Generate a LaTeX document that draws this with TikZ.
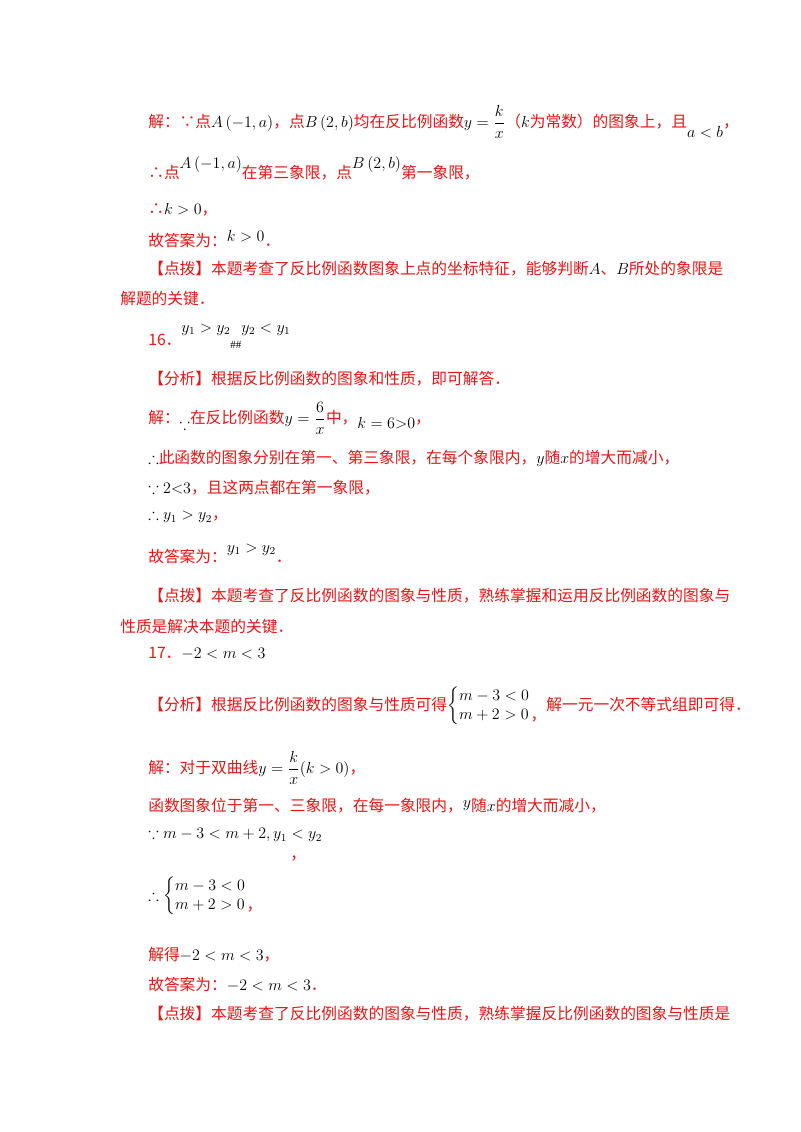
\documentclass[tikz,border=0pt]{standalone}
\usepackage{amsmath,amssymb}
\usepackage{fontspec}
\setmainfont{Liberation Serif}
\newfontfamily\cjk{Noto Sans CJK SC}
\definecolor{myred}{RGB}{235,20,20}
\newcommand{\M}[1]{\textcolor{black}{$#1$}}
\newcommand{\sys}{\left\{\begin{array}{@{}l@{}}m-3<0\\ m+2>0\end{array}\right.}
\begin{document}
\begin{tikzpicture}[x=0.75pt,y=-0.75pt,
  ln/.style={anchor=west,inner sep=0pt,text=myred,font=\cjk\fontsize{11.8}{14}\selectfont}]
\useasboundingbox (0,0) rectangle (800,1132);
\node[ln] (l1) at (148,122) {解：∵点\M{A\left(-1,a\right)}，点\M{B\left(2,b\right)}均在反比例函数\M{y=\dfrac{k}{x}}（\M{k}为常数）的图象上，且\raisebox{-1.2ex}{\M{a<b}}，};
\node[ln] (l2) at (148,168) {∴点\raisebox{1.2ex}{\M{A\left(-1,a\right)}}在第三象限，点\raisebox{1.2ex}{\M{B\left(2,b\right)}}第一象限，};
\node[ln] (l3) at (148,210) {∴\M{k>0}，};
\node[ln] (l4) at (148,239) {故答案为：\raisebox{0.5ex}{\M{k>0}}．};
\node[ln] (l5) at (148,269) {【点拨】本题考查了反比例函数图象上点的坐标特征，能够判断\M{A}、\M{B}所处的象限是};
\node[ln] (l6) at (120,299) {解题的关键．};
\node[ln] (l7) at (148,336) {16．\raisebox{1.6ex}{\M{y_1>y_2}}\raisebox{-0.3ex}{\M{\scriptstyle\#\#}}\raisebox{1.6ex}{\M{y_2<y_1}}};
\node[ln] (l8) at (148,379) {【分析】根据反比例函数的图象和性质，即可解答．};
\node[ln] (l9) at (148,418) {解：\raisebox{-0.8ex}{\M{\because}}在反比例函数\M{y=\dfrac{6}{x}}中，\raisebox{-0.6ex}{\M{k=6{>}0}}，};
\node[ln] (l10) at (148,458) {\M{\therefore}此函数的图象分别在第一、第三象限，在每个象限内，\M{y}随\M{x}的增大而减小，};
\node[ln] (l11) at (148,488) {\M{\because 2{<}3}，且这两点都在第一象限，};
\node[ln] (l12) at (148,516) {\M{\therefore y_1>y_2}，};
\node[ln] (l13) at (148,554) {故答案为：\raisebox{1.2ex}{\M{y_1>y_2}}．};
\node[ln] (l14) at (148,596) {【点拨】本题考查了反比例函数的图象与性质，熟练掌握和运用反比例函数的图象与};
\node[ln] (l15) at (120,627) {性质是解决本题的关键．};
\node[ln] (l16) at (148,654) {17．\M{-2<m<3}};
\node[ln] (l17) at (148,706) {【分析】根据反比例函数的图象与性质可得\M{\sys}\raisebox{-1.2ex}{，}解一元一次不等式组即可得．};
\node[ln] (l18) at (148,768) {解：对于双曲线\M{y=\dfrac{k}{x}(k>0)}，};
\node[ln] (l19) at (148,806) {函数图象位于第一、三象限，在每一象限内，\raisebox{0.5ex}{\M{y}}随\M{x}的增大而减小，};
\node[ln] (l20) at (148,835) {\M{\because m-3<m+2,y_1<y_2}};
\node[ln] (l20b) at (290,858) {，};
\node[ln] (l21) at (148,896) {\M{\therefore\sys}\raisebox{-1.2ex}{，}};
\node[ln] (l22) at (148,955) {解得\M{-2<m<3}，};
\node[ln] (l23) at (148,984) {故答案为：\M{-2<m<3}．};
\node[ln] (l24) at (148,1014) {【点拨】本题考查了反比例函数的图象与性质，熟练掌握反比例函数的图象与性质是};
\end{tikzpicture}
\end{document}
